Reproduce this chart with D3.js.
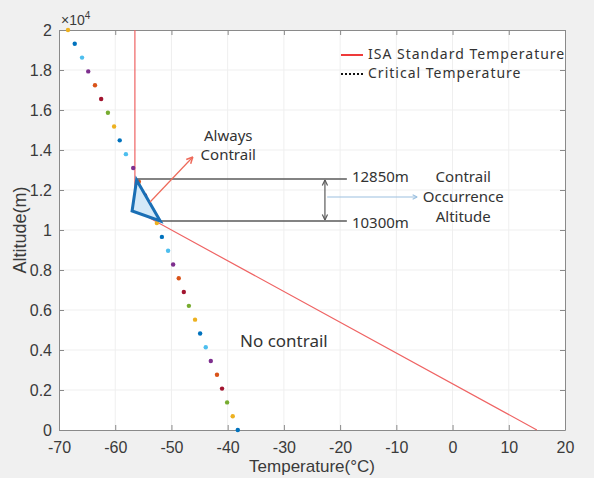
<!DOCTYPE html>
<html>
<head>
<meta charset="utf-8">
<script src="https://cdnjs.cloudflare.com/ajax/libs/d3/7.8.5/d3.min.js"></script>
<style>
body{margin:0;background:#f0f0f0;}
svg{display:block;}
</style>
</head>
<body>
<svg id="chart"></svg>
<script>
var screen = {width:594, height:478};
var margins = {top:30, right:29, bottom:48, left:59};

// critical temperature points (altitude m, temperature C)
var critAltitude = [0,690,1379,2069,2759,3448,4138,4828,5517,6207,6897,7586,8276,8966,9655,
                    10345,11034,11724,12414,13103,13793,14483,15172,15862,16552,17241,17931,18621,19310,20000];
var critTemp = [-38.2,-39.1,-40.1,-41.0,-41.9,-43.0,-43.9,-44.9,-45.8,-46.9,-47.8,-48.7,-49.7,-50.6,-51.7,
                -52.6,-53.6,-54.7,-55.8,-56.8,-58.1,-59.2,-60.2,-61.3,-62.5,-63.6,-64.8,-65.9,-67.2,-68.4];

// ISA standard temperature
var isaAltitude = [0, 11000, 20000];
var isaTemp = [15, -56.5, -56.5];

// contrail region triangle
var triTemp = [-56.2, -57.0, -52.0];
var triAltitude = [12500, 10950, 10450];

// band lines
var bandAltitude = [12550, 10450];
var bandStart = [-56.2, -52.0];
var bandEnd = -18.8;

var xTicks = [-70,-60,-50,-40,-30,-20,-10,0,10,20];
var yTicks = [0,2000,4000,6000,8000,10000,12000,14000,16000,18000,20000];
var yTickLabels = ["0","0.2","0.4","0.6","0.8","1","1.2","1.4","1.6","1.8","2"];

var matlabColors = ["#0072BD","#EDB120","#77AC30","#A2142F","#D95319","#7E2F8E","#4DBEEE"];

var setup = function()
    {
        var svg = d3.select("#chart")
            .attr("width", screen.width)
            .attr("height", screen.height);

        var xscale = d3.scaleLinear()
                        .domain([-70,20])
                        .range([margins.left, screen.width - margins.right]);
        var yscale = d3.scaleLinear()
                        .domain([0,20000])
                        .range([screen.height - margins.bottom, margins.top]);

        // plot area
        svg.append("rect")
            .attr("x", xscale(-70)).attr("y", yscale(20000))
            .attr("width", xscale(20) - xscale(-70))
            .attr("height", yscale(0) - yscale(20000))
            .attr("fill", "white");

        // grid
        var grid = svg.append("g").attr("id", "grid");
        grid.selectAll(".gx").data(xTicks.slice(1, -1)).enter().append("line")
            .attr("x1", d => xscale(d)).attr("x2", d => xscale(d))
            .attr("y1", yscale(0)).attr("y2", yscale(20000))
            .attr("stroke", "#efefef").attr("stroke-width", 1);
        grid.selectAll(".gy").data(yTicks.slice(1, -1)).enter().append("line")
            .attr("y1", d => yscale(d)).attr("y2", d => yscale(d))
            .attr("x1", xscale(-70)).attr("x2", xscale(20))
            .attr("stroke", "#efefef").attr("stroke-width", 1);

        // axes
        var axisG = svg.append("g").attr("id", "axis");
        axisG.append("g")
            .attr("transform", "translate(0,"+yscale(0)+")")
            .call(d3.axisBottom(xscale).tickValues(xTicks).tickSizeInner(-5).tickSizeOuter(0).tickPadding(12)
                  .tickFormat(d => String(d)));
        axisG.append("g")
            .attr("transform", "translate("+xscale(-70)+",0)")
            .call(d3.axisLeft(yscale).tickValues(yTicks).tickSizeInner(-5).tickSizeOuter(0).tickPadding(7)
                  .tickFormat((d,i) => yTickLabels[i]));
        axisG.append("g")
            .attr("transform", "translate(0,"+yscale(20000)+")")
            .call(d3.axisTop(xscale).tickValues(xTicks).tickSizeInner(-5).tickSizeOuter(0).tickFormat(""));
        axisG.append("g")
            .attr("transform", "translate("+xscale(20)+",0)")
            .call(d3.axisRight(yscale).tickValues(yTicks).tickSizeInner(-5).tickSizeOuter(0).tickFormat(""));
        axisG.selectAll(".domain, .tick line").attr("stroke", "#8a8a8a");
        axisG.selectAll("text")
            .attr("fill", "#3a3a3a")
            .style("font-family", "'Liberation Sans', Arial, sans-serif")
            .style("font-size", "16px");

        // exponent
        var ex = svg.append("text")
            .attr("x", xscale(-70) + 2).attr("y", 25)
            .attr("fill", "#3a3a3a")
            .style("font-family", "'Liberation Sans', Arial, sans-serif")
            .style("font-size", "14px");
        ex.append("tspan").text("\u00d710");
        ex.append("tspan").attr("dy", -6).style("font-size", "10px").text("4");

        // axis titles
        svg.append("text")
            .attr("x", (xscale(-70) + xscale(20)) / 2).attr("y", 472)
            .attr("text-anchor", "middle")
            .attr("fill", "#3a3a3a")
            .style("font-family", "'Liberation Sans', Arial, sans-serif")
            .style("font-size", "17px")
            .text("Temperature(\u00b0C)");
        svg.append("text")
            .attr("transform", "translate(26,"+((yscale(0)+yscale(20000))/2)+") rotate(-90)")
            .attr("text-anchor", "middle")
            .attr("fill", "#3a3a3a")
            .style("font-family", "'Liberation Sans', Arial, sans-serif")
            .style("font-size", "18px")
            .text("Altitude(m)");

        drawLines(svg, xscale, yscale);
        drawAnnotations(svg, xscale, yscale);
        drawLegend(svg);
    };

var drawLines = function(svg, xscale, yscale)
    {
        var isa = isaAltitude.map((h,i) => [isaTemp[i], h]);
        svg.append("path")
            .datum(isa)
            .attr("d", d3.line().x(d => xscale(d[0])).y(d => yscale(d[1])))
            .attr("fill", "none")
            .attr("stroke", "#ef6464")
            .attr("stroke-width", 1.2);

        var crit = critAltitude.map((h,i) => ({t:critTemp[i], h:h, i:i}));
        var color = d3.scaleOrdinal().domain(d3.range(7)).range(matlabColors);
        svg.append("g").attr("id", "crit")
            .selectAll("circle").data(crit).enter().append("circle")
            .attr("cx", d => xscale(d.t))
            .attr("cy", d => yscale(d.h))
            .attr("r", 2.2)
            .attr("fill", d => color(d.i % 7));
    };

var arrowHead = function(g, x1, y1, x2, y2, color, width, len)
    {
        var a = Math.atan2(y2 - y1, x2 - x1);
        [0.45, -0.45].forEach(function(off)
            {
                g.append("line")
                    .attr("x1", x2).attr("y1", y2)
                    .attr("x2", x2 - len*Math.cos(a + off))
                    .attr("y2", y2 - len*Math.sin(a + off))
                    .attr("stroke", color).attr("stroke-width", width);
            });
    };

var drawAnnotations = function(svg, xscale, yscale)
    {
        var g = svg.append("g").attr("id", "notes");
        var font = "'Noto Sans', 'Open Sans', sans-serif";

        // band lines
        bandAltitude.forEach(function(h,i)
            {
                g.append("line")
                    .attr("x1", xscale(bandStart[i])).attr("x2", xscale(bandEnd))
                    .attr("y1", yscale(h)).attr("y2", yscale(h))
                    .attr("stroke", "#5a5a5a").attr("stroke-width", 1.5);
            });

        // triangle
        var tri = triTemp.map((t,i) => [xscale(t), yscale(triAltitude[i])]);
        g.append("polygon")
            .attr("points", tri.map(p => p.join(",")).join(" "))
            .attr("fill", "#d4e9f8")
            .attr("stroke", "#1a6fb5")
            .attr("stroke-width", 3)
            .attr("stroke-linejoin", "miter");

        // red arrow (always contrail)
        var ra = [xscale(-53.8), yscale(11400), xscale(-46.2), yscale(13650)];
        g.append("line")
            .attr("x1", ra[0]).attr("y1", ra[1]).attr("x2", ra[2]).attr("y2", ra[3])
            .attr("stroke", "#ee6a5a").attr("stroke-width", 1.2);
        arrowHead(g, ra[0], ra[1], ra[2], ra[3], "#ee6a5a", 1.5, 7);

        // double arrow
        var dx = xscale(-22.7);
        var y1 = yscale(bandAltitude[0]) + 1, y2 = yscale(bandAltitude[1]) - 1;
        g.append("line")
            .attr("x1", dx).attr("x2", dx).attr("y1", y1).attr("y2", y2)
            .attr("stroke", "#5a5a5a").attr("stroke-width", 1.2);
        arrowHead(g, dx, y2, dx, y1, "#5a5a5a", 1.2, 6);
        arrowHead(g, dx, y1, dx, y2, "#5a5a5a", 1.2, 6);

        // light blue arrow
        var bx1 = xscale(-22.3), bx2 = xscale(-6.3), by = yscale(11650);
        g.append("line")
            .attr("x1", bx1).attr("x2", bx2).attr("y1", by).attr("y2", by)
            .attr("stroke", "#9cc0e0").attr("stroke-width", 1.2);
        arrowHead(g, bx1, by, bx2, by, "#9cc0e0", 1.2, 5);

        var labels = [
            {t:-39.9, h:14700, s:"Always", a:"middle", f:15},
            {t:-39.9, h:13750, s:"Contrail", a:"middle", f:15},
            {t:-17.9, h:12650, s:"12850m", a:"start", f:15},
            {t:-17.9, h:10350, s:"10300m", a:"start", f:15},
            {t:1.9, h:12650, s:"Contrail", a:"middle", f:15},
            {t:1.9, h:11650, s:"Occurrence", a:"middle", f:15},
            {t:1.9, h:10650, s:"Altitude", a:"middle", f:15},
            {t:-37.8, h:4450, s:"No contrail", a:"start", f:17}
        ];
        g.selectAll("text").data(labels).enter().append("text")
            .attr("x", d => xscale(d.t))
            .attr("y", d => yscale(d.h))
            .attr("dy", "0.35em")
            .attr("text-anchor", d => d.a)
            .attr("fill", "#333")
            .style("font-family", font)
            .style("font-size", d => d.f + "px")
            .text(d => d.s);
    };

var drawLegend = function(svg)
    {
        var g = svg.append("g").attr("id", "legend");
        var font = "'Noto Sans', 'Open Sans', sans-serif";
        g.append("line")
            .attr("x1", 341).attr("x2", 363).attr("y1", 55).attr("y2", 55)
            .attr("stroke", "#ee3a3a").attr("stroke-width", 2);
        g.append("line")
            .attr("x1", 341).attr("x2", 363).attr("y1", 74).attr("y2", 74)
            .attr("stroke", "#111").attr("stroke-width", 2)
            .attr("stroke-dasharray", "2,2");
        g.append("text")
            .attr("x", 368).attr("y", 54.5).attr("dy", "0.35em")
            .attr("fill", "#333")
            .style("font-family", font).style("font-size", "14px")
            .style("letter-spacing", "1px")
            .text("ISA Standard Temperature");
        g.append("text")
            .attr("x", 368).attr("y", 73.5).attr("dy", "0.35em")
            .attr("fill", "#333")
            .style("font-family", font).style("font-size", "14px")
            .style("letter-spacing", "1px")
            .text("Critical Temperature");
    };

setup();
</script>
</body>
</html>
